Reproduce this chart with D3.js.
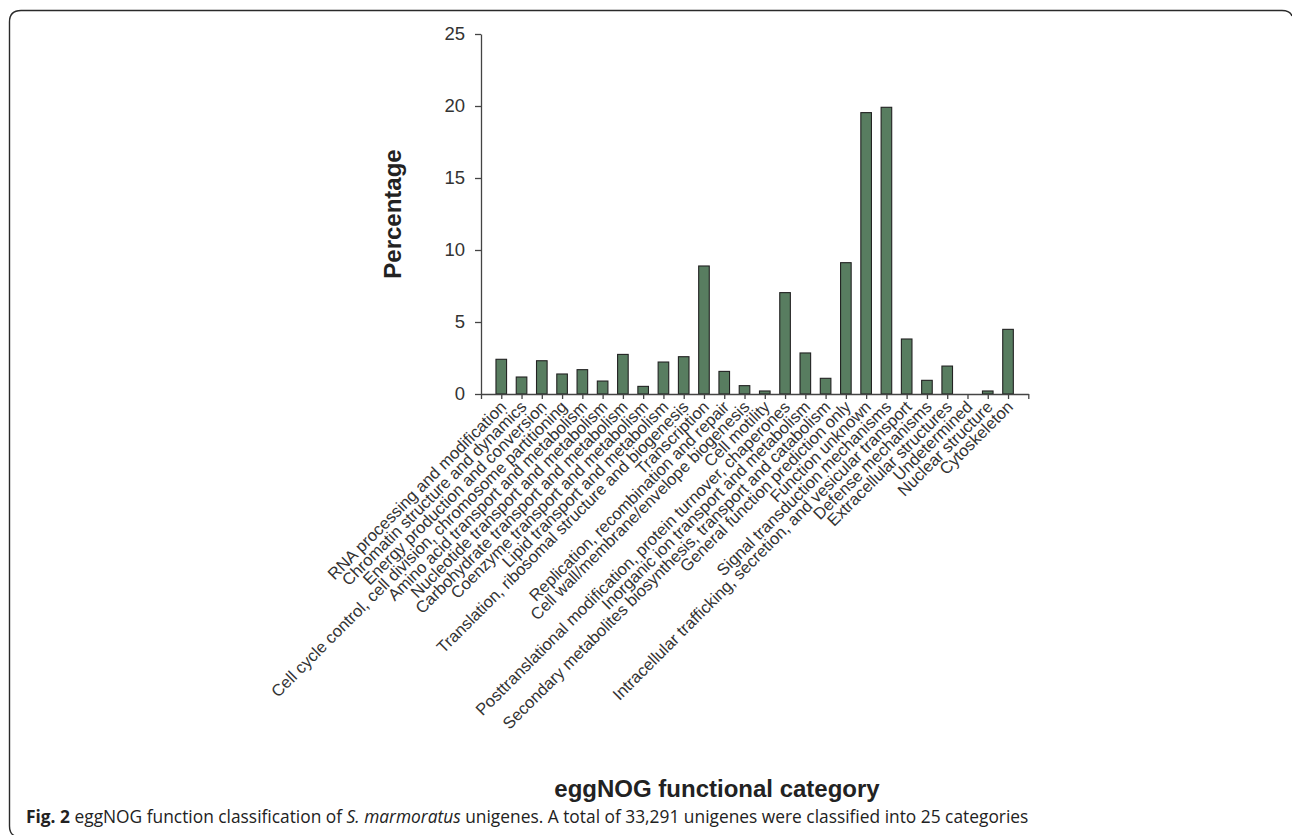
<!DOCTYPE html>
<html>
<head>
<meta charset="utf-8">
<script src="https://cdn.jsdelivr.net/npm/d3@7"></script>
<style>
  html, body { margin: 0; padding: 0; background: #fff; }
  svg { display: block; }
</style>
</head>
<body>
<svg id="chart" width="1292" height="835"></svg>
<script>
const categories = [
  "RNA processing and modification",
  "Chromatin structure and dynamics",
  "Energy production and conversion",
  "Cell cycle control, cell division, chromosome partitioning",
  "Amino acid transport and metabolism",
  "Nucleotide transport and metabolism",
  "Carbohydrate transport and metabolism",
  "Coenzyme transport and metabolism",
  "Lipid transport and metabolism",
  "Translation, ribosomal structure and biogenesis",
  "Transcription",
  "Replication, recombination and repair",
  "Cell wall/membrane/envelope biogenesis",
  "Cell motility",
  "Posttranslational modification, protein turnover, chaperones",
  "Inorganic ion transport and metabolism",
  "Secondary metabolites biosynthesis, transport and catabolism",
  "General function prediction only",
  "Function unknown",
  "Signal transduction mechanisms",
  "Intracellular trafficking, secretion, and vesicular transport",
  "Defense mechanisms",
  "Extracellular structures",
  "Undetermined",
  "Nuclear structure",
  "Cytoskeleton"
];
const percentages = [
  2.41, 1.18, 2.31, 1.39, 1.69, 0.90, 2.75, 0.53, 2.22, 2.59,
  8.89, 1.57, 0.58, 0.21, 7.04, 2.85, 1.09, 9.12, 19.54, 19.91,
  3.82, 0.95, 1.94, 0.00, 0.21, 4.49
];
const yTicks = [0, 5, 10, 15, 20, 25];
const yTitle = "Percentage";
const xTitle = "eggNOG functional category";

const svg = d3.select("#chart");

// frame
svg.append("path")
  .attr("d", "M 9.5 826 L 9.5 22 Q 9.5 10.5 21 10.5 L 1282 10.5 Q 1290 10.5 1292 16 M 9.5 826 Q 9.5 834 15 836")
  .attr("fill", "none").attr("stroke", "#2a2a2a").attr("stroke-width", 1.4);

const x = d3.scaleLinear().domain([0, categories.length + 1]).range([481, 1028.3]);
const y = d3.scaleLinear().domain([0, 25]).range([394, 34]);
const barW = 10.6;

const g = svg.append("g");

// bars
g.selectAll("rect.bar").data(percentages).join("rect")
  .attr("class", "bar")
  .attr("x", (d, i) => x(i + 1) - barW / 2)
  .attr("y", d => y(d))
  .attr("width", barW)
  .attr("height", d => y(0) - y(d))
  .attr("fill", "#587d60")
  .attr("stroke", "#222")
  .attr("stroke-width", 1.1)
  .attr("display", d => d > 0 ? null : "none");

// x axis
const xAxis = d3.axisBottom(x)
  .tickValues(d3.range(0, categories.length + 2))
  .tickFormat("")
  .tickSize(5)
  .tickSizeOuter(0);
const xg = g.append("g").attr("transform", `translate(0,${y(0)})`).call(xAxis);
xg.selectAll("path, line").attr("stroke", "#444").attr("stroke-width", 1.3);

// y axis
const yAxis = d3.axisLeft(y).tickValues(yTicks).tickSize(6).tickSizeOuter(0).tickPadding(10);
const yg = g.append("g").attr("transform", `translate(${x(0)},0)`).call(yAxis);
yg.selectAll("path, line").attr("stroke", "#444").attr("stroke-width", 1.3);
yg.selectAll("text")
  .attr("font-family", "Liberation Sans, Arial, sans-serif")
  .attr("font-size", 18.5).attr("fill", "#333");

// category labels
g.selectAll("text.cat").data(categories).join("text")
  .attr("class", "cat")
  .attr("transform", (d, i) => `translate(${x(i + 1) + 6},${y(0) + 14}) rotate(-45)`)
  .attr("text-anchor", "end")
  .attr("font-family", "Liberation Sans, Arial, sans-serif")
  .attr("font-size", 16.6)
  .attr("fill", "#333")
  .text(d => d);

// axis titles
svg.append("text")
  .attr("transform", `translate(401,214) rotate(-90)`)
  .attr("text-anchor", "middle")
  .attr("font-family", "Liberation Sans, Arial, sans-serif")
  .attr("font-weight", "bold").attr("font-size", 24).attr("fill", "#222")
  .text(yTitle);

svg.append("text")
  .attr("x", 717).attr("y", 797)
  .attr("text-anchor", "middle")
  .attr("font-family", "Liberation Sans, Arial, sans-serif")
  .attr("font-weight", "bold").attr("font-size", 24).attr("fill", "#222")
  .text(xTitle);

// caption
const cap = svg.append("text")
  .attr("x", 26).attr("y", 823)
  .attr("font-family", "Open Sans, Noto Sans, sans-serif")
  .attr("font-size", 17).attr("fill", "#222");
cap.append("tspan").attr("font-weight", "bold").text("Fig. 2");
cap.append("tspan").text(" eggNOG function classification of ");
cap.append("tspan").attr("font-style", "italic").text("S. marmoratus");
cap.append("tspan").text(" unigenes. A total of 33,291 unigenes were classified into 25 categories");
const capLen = cap.node().getComputedTextLength();
cap.attr("font-size", 17 * 1003 / capLen);
</script>
</body>
</html>
